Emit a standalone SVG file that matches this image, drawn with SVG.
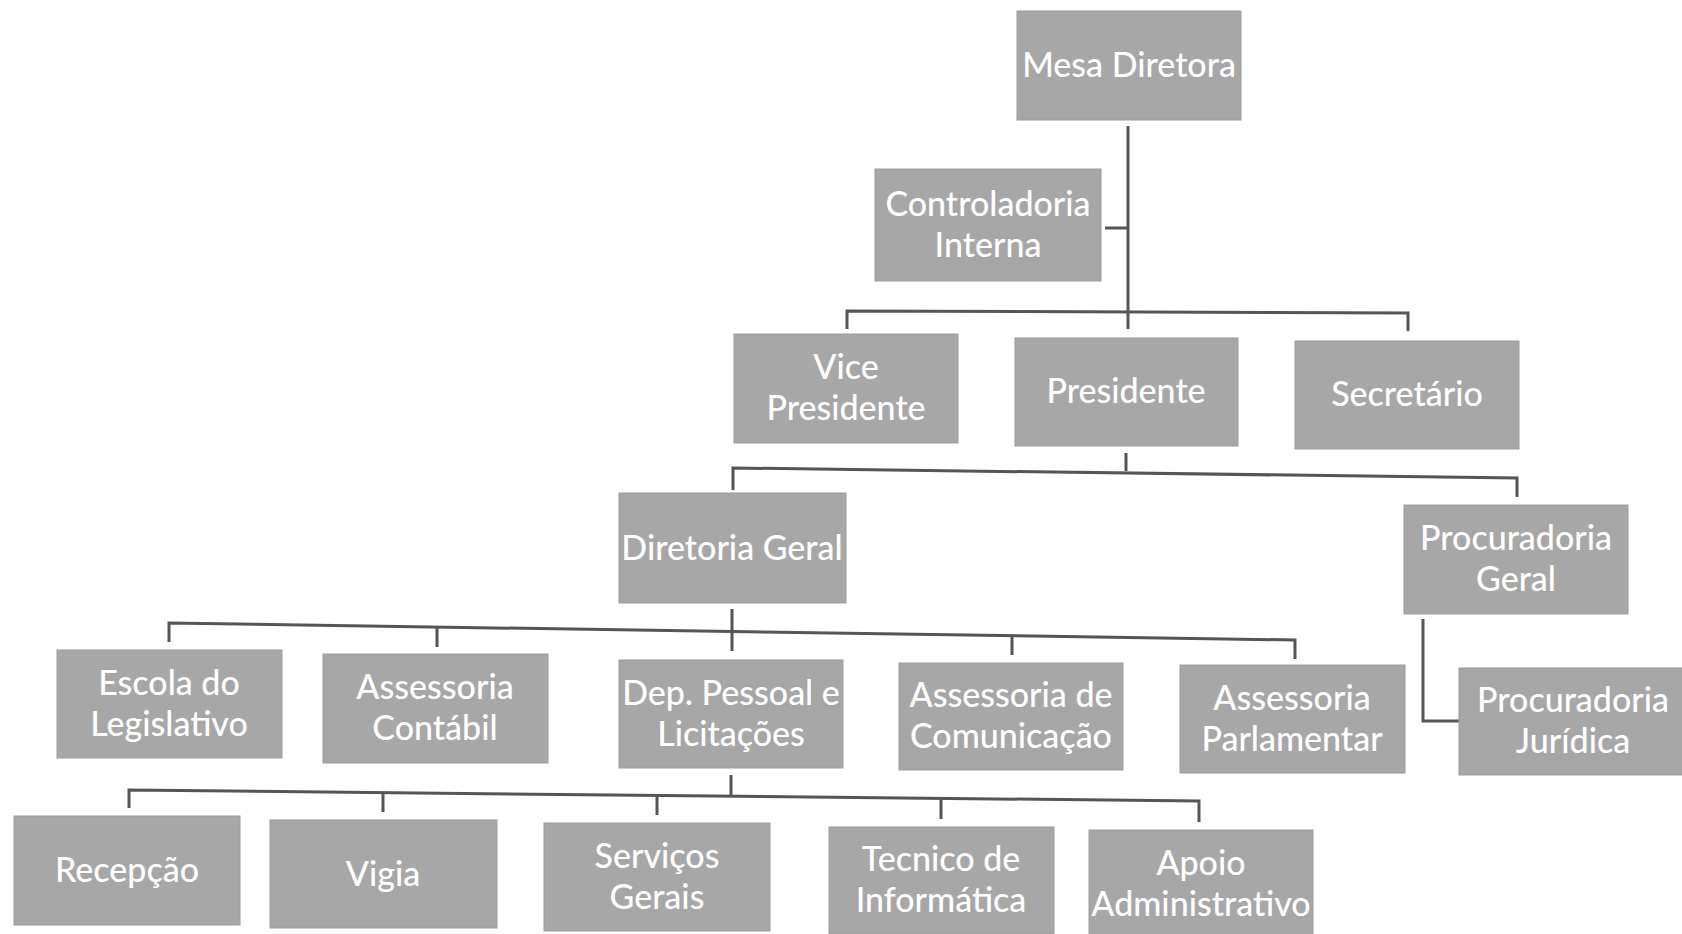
<svg xmlns="http://www.w3.org/2000/svg" width="1682" height="934" viewBox="0 0 1682 934">
<style>
.box{fill:#a7a7a7;stroke:#9c9c9c;stroke-width:1}
.t{font-family:Lato,"Open Sans","Liberation Sans",sans-serif;font-size:34px;font-weight:500;fill:#ffffff;text-anchor:middle}
.c{fill:none;stroke:#555555;stroke-width:3}
</style>
<rect width="1682" height="934" fill="#ffffff"/>
<g id="connectors">
<path class="c" d="M1128 126 V329"/>
<path class="c" d="M1105 228 H1128"/>
<path class="c" d="M847 329 V311 L1408 313 V331"/>
<path class="c" d="M1126 453 V471"/>
<path class="c" d="M733 490 V468 L1517 478 V497"/>
<path class="c" d="M732 609 V651"/>
<path class="c" d="M169 642 V623 L1295 640 V659"/>
<path class="c" d="M437 627 V647"/>
<path class="c" d="M1012 636 V655"/>
<path class="c" d="M1423 619 V721 H1459"/>
<path class="c" d="M731 775 V796"/>
<path class="c" d="M129 808 V790 L1199 801 V822"/>
<path class="c" d="M383 793 V812"/>
<path class="c" d="M657 795 V815"/>
<path class="c" d="M941 798 V819"/>
</g>
<g id="mesa"><rect class="box" x="1017" y="11" width="224" height="109"/><text class="t" x="1129" y="77">Mesa Diretora</text></g>
<g id="controladoria"><rect class="box" x="875" y="169" width="226" height="112"/><text class="t" x="988" y="216">Controladoria</text><text class="t" x="988" y="257">Interna</text></g>
<g id="vice"><rect class="box" x="734" y="334" width="224" height="109"/><text class="t" x="846" y="379">Vice</text><text class="t" x="846" y="420">Presidente</text></g>
<g id="presidente"><rect class="box" x="1015" y="338" width="223" height="108"/><text class="t" x="1126" y="403">Presidente</text></g>
<g id="secretario"><rect class="box" x="1295" y="341" width="224" height="108"/><text class="t" x="1407" y="406">Secretário</text></g>
<g id="diretoria"><rect class="box" x="619" y="493" width="227" height="110"/><text class="t" x="732" y="560">Diretoria Geral</text></g>
<g id="procuradoria-geral"><rect class="box" x="1404" y="505" width="224" height="109"/><text class="t" x="1516" y="550">Procuradoria</text><text class="t" x="1516" y="591">Geral</text></g>
<g id="escola"><rect class="box" x="57" y="650" width="225" height="108"/><text class="t" x="169" y="695">Escola do</text><text class="t" x="169" y="736">Legislativo</text></g>
<g id="contabil"><rect class="box" x="323" y="654" width="225" height="109"/><text class="t" x="435" y="699">Assessoria</text><text class="t" x="435" y="740">Contábil</text></g>
<g id="dep-pessoal"><rect class="box" x="619" y="660" width="224" height="108"/><text class="t" x="731" y="705">Dep. Pessoal e</text><text class="t" x="731" y="746">Licitações</text></g>
<g id="comunicacao"><rect class="box" x="899" y="663" width="224" height="107"/><text class="t" x="1011" y="707">Assessoria de</text><text class="t" x="1011" y="748">Comunicação</text></g>
<g id="parlamentar"><rect class="box" x="1180" y="665" width="225" height="108"/><text class="t" x="1292" y="710">Assessoria</text><text class="t" x="1292" y="751">Parlamentar</text></g>
<g id="procuradoria-juridica"><rect class="box" x="1459" y="668" width="224" height="107"/><text class="t" x="1573" y="712">Procuradoria</text><text class="t" x="1573" y="753">Jurídica</text></g>
<g id="recepcao"><rect class="box" x="14" y="816" width="226" height="109"/><text class="t" x="127" y="882">Recepção</text></g>
<g id="vigia"><rect class="box" x="270" y="820" width="227" height="108"/><text class="t" x="383" y="886">Vigia</text></g>
<g id="servicos"><rect class="box" x="544" y="823" width="226" height="108"/><text class="t" x="657" y="868">Serviços</text><text class="t" x="657" y="909">Gerais</text></g>
<g id="tecnico"><rect class="box" x="829" y="827" width="225" height="107"/><text class="t" x="941" y="871">Tecnico de</text><text class="t" x="941" y="912">Informática</text></g>
<g id="apoio"><rect class="box" x="1089" y="830" width="224" height="106"/><text class="t" x="1201" y="875">Apoio</text><text class="t" x="1201" y="916">Administrativo</text></g>
</svg>
